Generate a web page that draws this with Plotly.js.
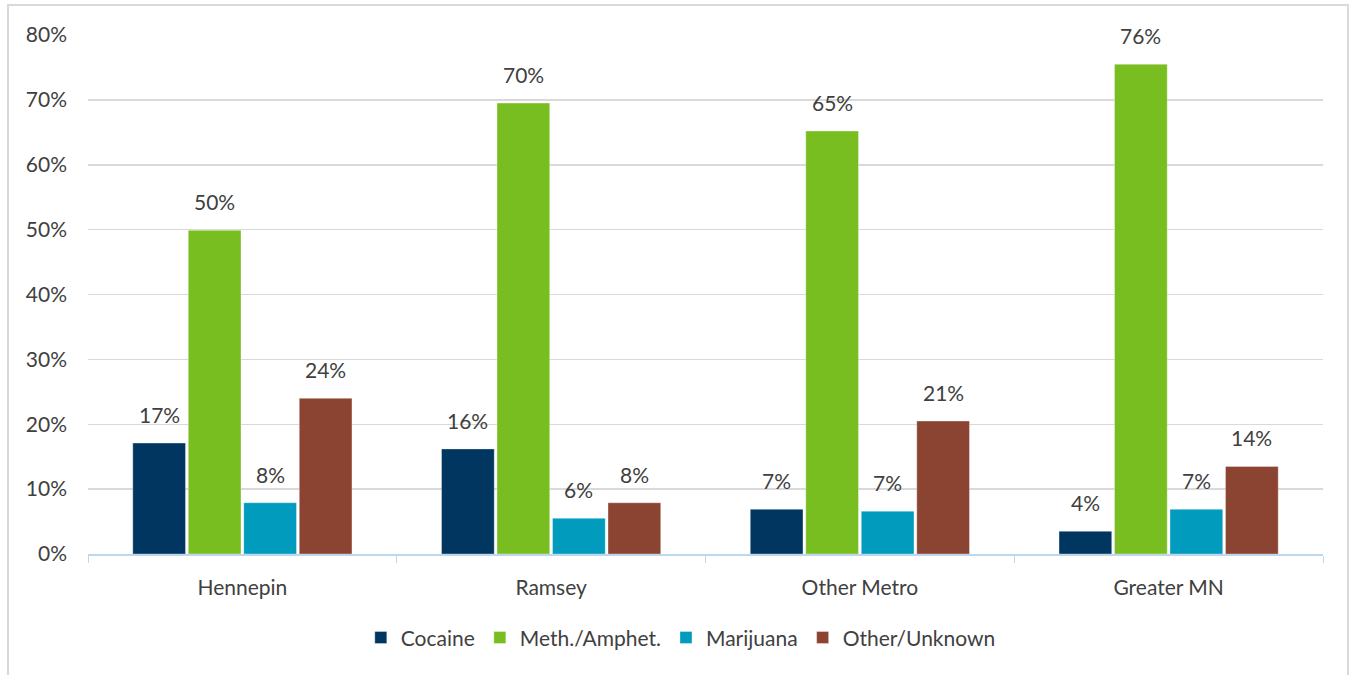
<!DOCTYPE html>
<html>
<head>
<meta charset="utf-8">
<script src="https://cdn.plot.ly/plotly-3.0.1.min.js"></script>
<style>
  html, body { margin: 0; padding: 0; background: #ffffff; }
  #chart { width: 1353px; height: 675px; position: absolute; left: 0; top: 0; }
  #frame { position: absolute; left: 7px; top: 4px; width: 1342px; height: 700px;
           border: 2px solid #d9d9d9; box-sizing: border-box; pointer-events: none; }
</style>
</head>
<body>
<div id="chart"></div>
<div id="frame"></div>
<script>
const categories = ["Hennepin", "Ramsey", "Other Metro", "Greater MN"];
const seriesNames = ["Cocaine", "Meth./Amphet.", "Marijuana", "Other/Unknown"];
const cocaine   = [17.1, 16.2, 6.9, 3.5];
const meth      = [49.9, 69.5, 65.2, 75.5];
const marijuana = [7.9, 5.5, 6.6, 6.9];
const other     = [24.0, 7.9, 20.5, 13.5];
const seriesValues = [cocaine, meth, marijuana, other];
const seriesColors = ["#003660", "#78BE20", "#009BBD", "#8B4332"];
const yTickVals = [0, 10, 20, 30, 40, 50, 60, 70, 80];
const yTickText = ["0%", "10%", "20%", "30%", "40%", "50%", "60%", "70%", "80%"];

const FONT = "Lato, 'Open Sans', sans-serif";
const TEXT = "#404040";

const traces = seriesValues.map((vals, i) => ({
  type: "bar",
  name: seriesNames[i],
  x: categories,
  y: vals,
  marker: { color: seriesColors[i], line: { color: "rgba(255,255,255,0.35)", width: 1 } },
  hoverinfo: "x+y+name"
}));

// data labels via annotations above each bar
const plotW = 1353 - 88 - 30;
const catW = plotW / categories.length;
const bargap = 0.281;
const slot = catW * (1 - bargap) / seriesValues.length;
const annotations = [];
seriesValues.forEach((vals, i) => {
  vals.forEach((v, j) => {
    annotations.push({
      x: categories[j], y: v, xref: "x", yref: "y",
      text: Math.round(v) + "%",
      showarrow: false,
      xanchor: "center", yanchor: "bottom",
      xshift: (i - (seriesValues.length - 1) / 2) * slot,
      yshift: 14,
      font: { family: FONT, size: 21, color: TEXT }
    });
  });
});

const layout = {
  width: 1353, height: 675,
  margin: { l: 88, r: 30, t: 35, b: 121, autoexpand: false },
  paper_bgcolor: "#ffffff",
  plot_bgcolor: "#ffffff",
  font: { family: FONT, color: TEXT, size: 21 },
  barmode: "group",
  bargap: bargap,
  bargroupgap: 0.05,
  showlegend: true,
  legend: {
    orientation: "h", x: 0.48, xanchor: "center", xref: "paper",
    yref: "container", y: 0.055, yanchor: "middle",
    font: { family: FONT, size: 21, color: TEXT },
    traceorder: "normal"
  },
  xaxis: {
    type: "category",
    showgrid: false,
    showline: true, linecolor: "#BDD7EE", linewidth: 2,
    ticks: "outside", tickson: "boundaries", ticklen: 7, tickcolor: "#BDD7EE", tickwidth: 1,
    tickfont: { family: FONT, size: 21, color: TEXT },
    ticklabelstandoff: 14,
    zeroline: false
  },
  yaxis: {
    range: [0, 80],
    tickvals: yTickVals, ticktext: yTickText,
    showgrid: true, gridcolor: "#D9D9D9", gridwidth: 1.5,
    showline: false, zeroline: false,
    ticks: "",
    ticklabelstandoff: 20,
    tickfont: { family: FONT, size: 21, color: TEXT }
  },
  annotations: annotations
};

Plotly.newPlot("chart", traces, layout, { displayModeBar: false, staticPlot: true });
</script>
</body>
</html>
